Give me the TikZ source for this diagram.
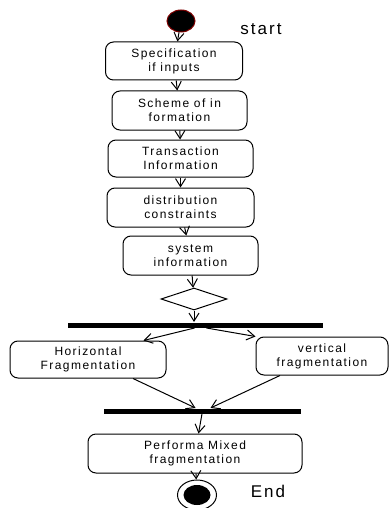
\documentclass[tikz,border=0pt]{standalone}
\usepackage{fontspec}
\setmainfont{Liberation Sans}[LetterSpace=12]
\usetikzlibrary{arrows.meta,shapes.geometric}
\begin{document}
\begin{tikzpicture}[x=1pt, y=-1pt, line width=1pt,
  >={Straight Barb[length=8pt,width=10pt]},
  activity/.style={draw, rounded corners=8pt, align=center, inner sep=0pt,
    font=\fontsize{12}{14}\selectfont},
  bar/.style={fill, inner sep=0pt, minimum height=5pt},
  startnode/.style={ellipse, fill, draw=red!50!black, minimum width=28pt, minimum height=22pt},
  label/.style={font=\fontsize{17}{19}\selectfont}]
  \useasboundingbox (0,0) rectangle (390,508);

  \node[startnode] (start) at (181,21) {};
  \node[label] (startlbl) at (261,29) {start};

  \node[activity, minimum width=137pt, minimum height=38pt] (spec) at (174,61) {Specification\\if inputs};
  \node[activity, minimum width=135pt, minimum height=39pt] (scheme) at (179.5,110.5) {Scheme of in\\formation};
  \node[activity, minimum width=145pt, minimum height=37pt] (trans) at (180.5,158.5) {Transaction\\Information};
  \node[activity, minimum width=147pt, minimum height=39pt] (distr) at (180.5,207.5) {distribution\\constraints};
  \node[activity, minimum width=135pt, minimum height=39pt] (sys) at (190.5,255.5) {system\\information};
  \node[diamond, draw, inner sep=0pt, minimum width=66pt, minimum height=22pt] (dia) at (194,299) {};

  \node[bar, minimum width=255pt] (fork) at (195.5,325) {};
  \node[activity, minimum width=156pt, minimum height=37pt] (horiz) at (88,359.5) {Horizontal\\Fragmentation};
  \node[activity, minimum width=132pt, minimum height=38pt] (vert) at (322,356) {vertical\\fragmentation};
  \node[bar, minimum width=197pt] (join) at (202.5,411) {};

  \node[activity, minimum width=214pt, minimum height=39pt] (mixed) at (195,453.5) {Performa Mixed\\fragmentation};
  \node[ellipse, draw, minimum width=39pt, minimum height=30pt] (final) at (197,495) {};
  \node[ellipse, fill, minimum width=27pt, minimum height=20pt] (finaldot) at (final) {};
  \node[label] (endlbl) at (268,491) {End};

  \draw[->] (start) -- (spec);
  \draw[->] (spec) -- (scheme);
  \draw[->] (scheme) -- (trans);
  \draw[->] (trans) -- (distr);
  \draw[->] (distr) -- (sys);
  \draw[->] (sys) -- (dia);
  \draw[->] (dia) -- (dia |- fork.north);
  \draw[->] ([xshift=-1pt]fork.south) -- ([xshift=-23pt]horiz.north east);
  \draw[->] ([xshift=11pt]fork.south) -- (vert.north west);
  \draw[->] ([xshift=45pt]horiz.south) -- ([xshift=-7pt]join.north);
  \draw[->] ([xshift=-42pt]vert.south) -- ([xshift=8pt]join.north);
  \draw[->] (join) -- (mixed);
  \draw[->] (mixed) -- (final);
\end{tikzpicture}
\end{document}
